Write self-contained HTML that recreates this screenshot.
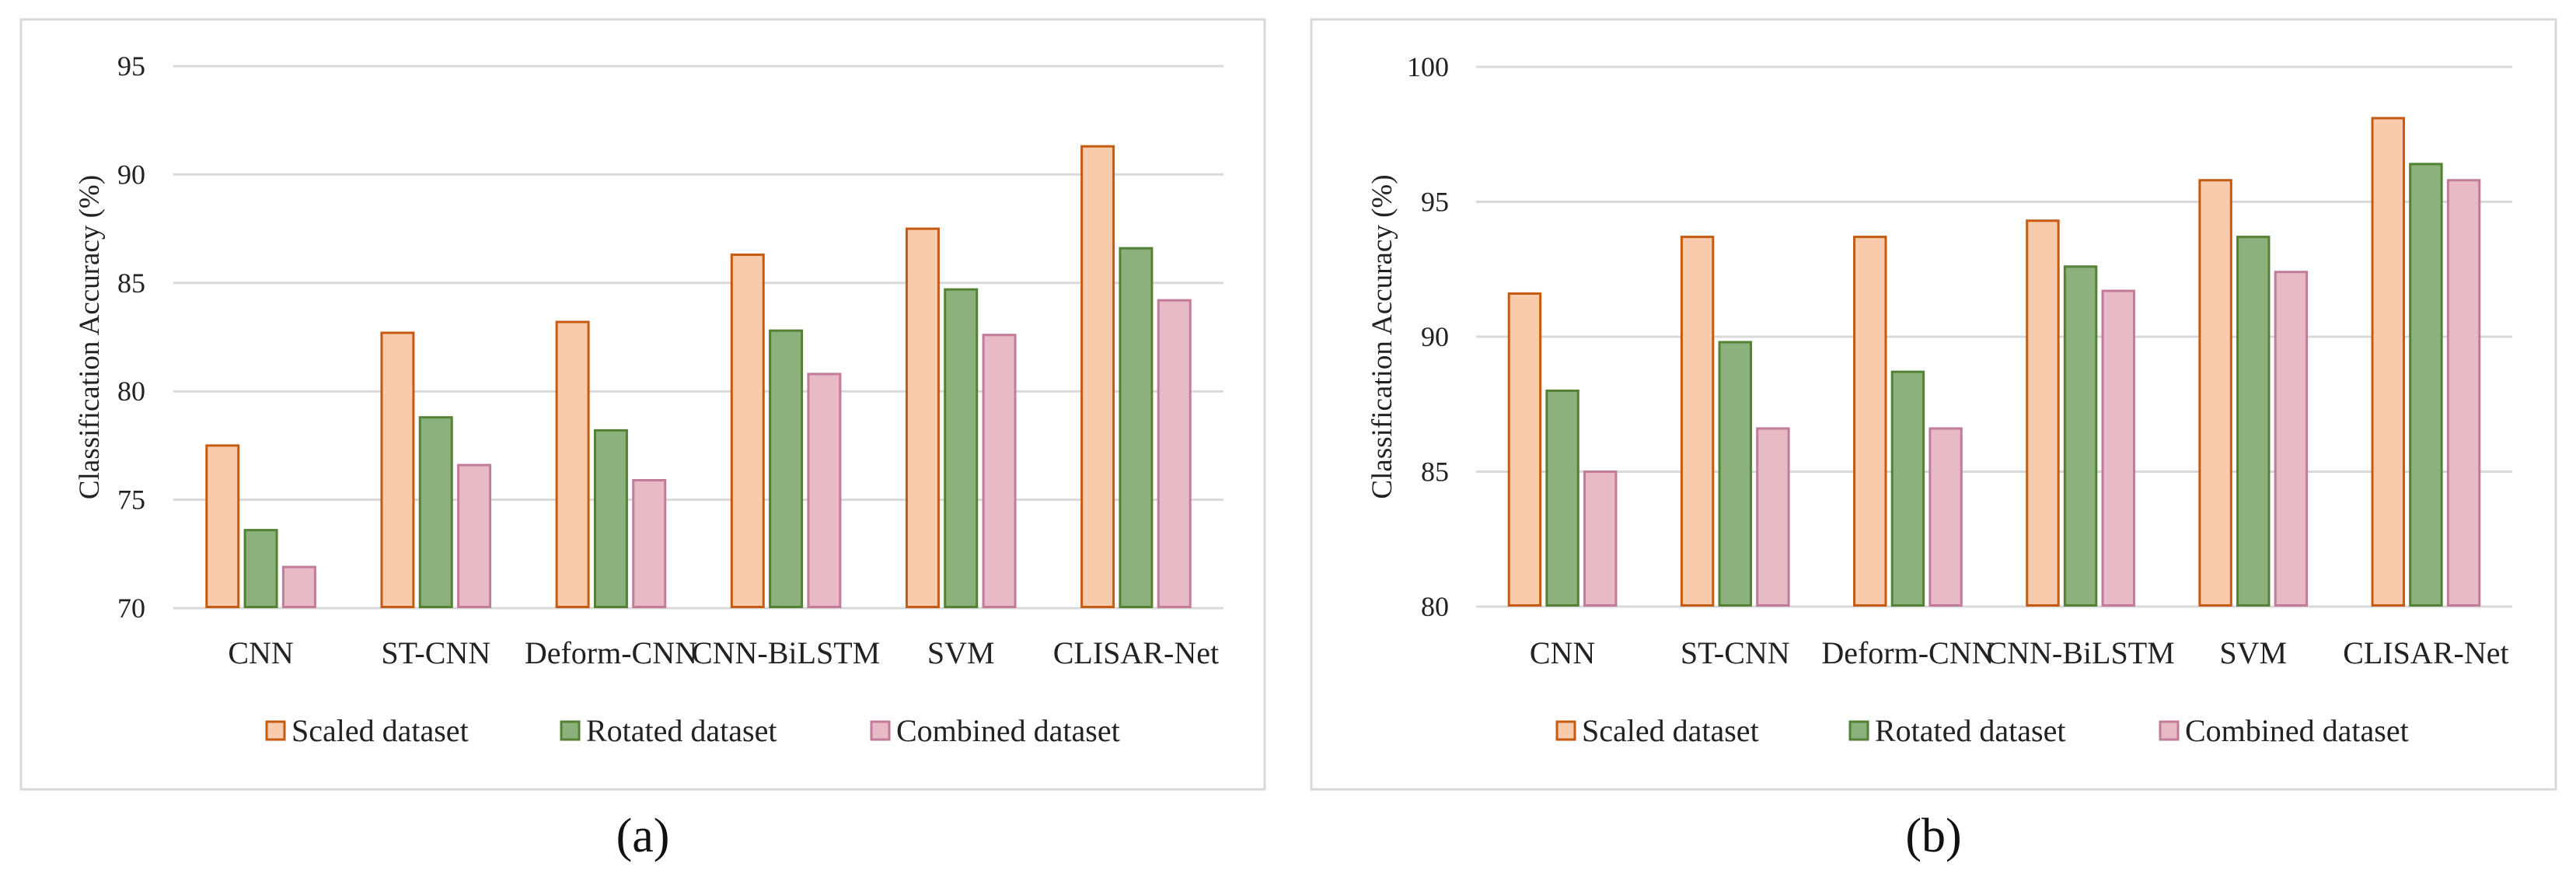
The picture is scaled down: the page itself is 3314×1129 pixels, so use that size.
<!DOCTYPE html>
<html><head><meta charset="utf-8">
<style>
html,body{margin:0;padding:0;background:#fff;}
svg{display:block;font-family:"Liberation Serif",serif;}
</style></head>
<body>
<svg id="fig" width="3314" height="1129" viewBox="0 0 3314 1129" xmlns="http://www.w3.org/2000/svg"></svg>
<script>
const categories = ["CNN","ST-CNN","Deform-CNN","CNN-BiLSTM","SVM","CLISAR-Net"];
const seriesNames = ["Scaled dataset","Rotated dataset","Combined dataset"];
const aScaled = [77.5, 82.7, 83.2, 86.3, 87.5, 91.3];
const aRotated = [73.6, 78.8, 78.2, 82.8, 84.7, 86.6];
const aCombined = [71.9, 76.6, 75.9, 80.8, 82.6, 84.2];
const bScaled = [91.6, 93.7, 93.7, 94.3, 95.8, 98.1];
const bRotated = [88.0, 89.8, 88.7, 92.6, 93.7, 96.4];
const bCombined = [85.0, 86.6, 86.6, 91.7, 92.4, 95.8];
const aTicks = [70, 75, 80, 85, 90, 95];
const bTicks = [80, 85, 90, 95, 100];

const NS = "http://www.w3.org/2000/svg";
const svg = document.getElementById("fig");
const fills = ["#F8CBAD","#8CB17D","#E7BAC6"];
const strokes = ["#C55A11","#548235","#C27B98"];

function mk(tag, attrs, parent){
  const e = document.createElementNS(NS, tag);
  for (const k in attrs) e.setAttribute(k, attrs[k]);
  (parent||svg).appendChild(e);
  return e;
}

function panel(cfg){
  const g = mk("g", {});
  
  
  const fr = mk("rect", {x:cfg.fx1, y:25, width:cfg.fx2-cfg.fx1, height:990, fill:"none", stroke:"#D9D9D9", "stroke-width":3}, g);
  
  
  const lo = cfg.ticks[0], hi = cfg.ticks[cfg.ticks.length-1];
  const yS = v => cfg.yBot - (v - lo) / (hi - lo) * (cfg.yBot - cfg.yTop);
  const catW = (cfg.px2 - cfg.px1) / categories.length;
  const xC = i => cfg.px1 + catW * (i + 0.5);
  cfg.ticks.forEach(t => {
    const ln = mk("line", {x1:cfg.px1, x2:cfg.px2, y1:yS(t), y2:yS(t), stroke:"#D9D9D9", "stroke-width":3}, g);
    
    
    const tx = mk("text", {x:cfg.tickX, y:yS(t)+12, "text-anchor":"end", "font-size":36, fill:"#222"}, g);
    tx.textContent = t;
    
    
  });
  const yt = mk("text", {x:0, y:0, "text-anchor":"middle", "font-size":37, fill:"#222",
    transform:`translate(${cfg.titleX},${(cfg.yTop+cfg.yBot)/2}) rotate(-90)`}, g);
  yt.textContent = "Classification Accuracy (%)";
  
  
  const stride = catW * 0.219, bw = catW * 0.182;
  cfg.series.forEach((vals, s) => {
    vals.forEach((v, i) => {
      const cx = xC(i) + (s - 1) * stride;
      const r = mk("rect", {x:cx - bw/2, y:yS(v), width:bw, height:yS(lo) - yS(v) - 1.5,
        fill:fills[s], stroke:strokes[s], "stroke-width":3}, g);
      
      
    });
  });
  categories.forEach((c, i) => {
    const tx = mk("text", {x:xC(i), y:853, "text-anchor":"middle", "font-size":40, fill:"#222"}, g);
    tx.textContent = c;
    
    
  });
  seriesNames.forEach((n, s) => {
    const lx = cfg.legX[s];
    const sq = mk("rect", {x:lx, y:928, width:23, height:23, fill:fills[s], stroke:strokes[s], "stroke-width":3}, g);
    
    
    const tx = mk("text", {x:lx + 32, y:953, "font-size":40, fill:"#222"}, g);
    tx.textContent = n;
    
    
  });
  const cap = mk("text", {x:(cfg.fx1+cfg.fx2)/2, y:1095, "text-anchor":"middle", "font-size":62, fill:"#111"}, g);
  cap.textContent = cfg.caption;
  
  
}

panel({name:"chart-a", fx1:27, fx2:1627, px1:223, px2:1574, yTop:85, yBot:782,
  ticks:aTicks, tickX:187, titleX:127, series:[aScaled,aRotated,aCombined],
  legX:[343,722,1121], caption:"(a)"});
panel({name:"chart-b", fx1:1687, fx2:3288, px1:1899, px2:3232, yTop:86, yBot:780,
  ticks:bTicks, tickX:1864, titleX:1790, series:[bScaled,bRotated,bCombined],
  legX:[2003,2380,2779], caption:"(b)"});
</script>
</body></html>
